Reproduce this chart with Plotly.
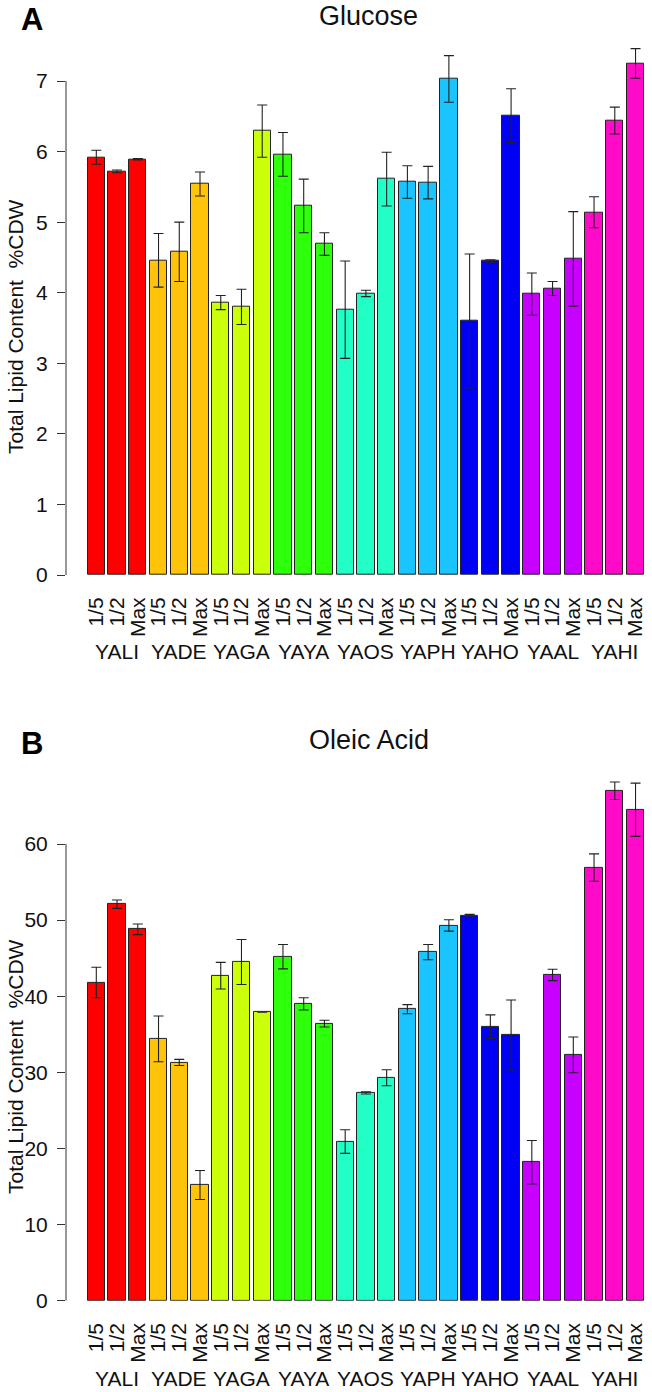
import numpy as np
import plotly.graph_objects as go

W, H = 652, 1392

strains = ["YALI", "YADE", "YAGA", "YAYA", "YAOS", "YAPH", "YAHO", "YAAL", "YAHI"]
levels = ["1/5", "1/2", "Max"]
strain_colors = ["#FF0000", "#FFC30A", "#CCFF0A", "#2EFF0A", "#22FFC6",
                 "#1AC4FF", "#0000F5", "#C800FF", "#FF0AC8"]

glucose_vals = [5.92, 5.72, 5.89, 4.46, 4.58, 5.54, 3.86, 3.80, 6.29,
                5.96, 5.23, 4.69, 3.76, 3.99, 5.61, 5.57, 5.56, 7.03,
                3.60, 4.45, 6.51, 3.98, 4.06, 4.48, 5.14, 6.44, 7.25]
glucose_err = [0.10, 0.02, 0.01, 0.38, 0.42, 0.17, 0.10, 0.25, 0.37,
               0.31, 0.38, 0.16, 0.69, 0.045, 0.38, 0.23, 0.23, 0.33,
               0.95, 0.017, 0.38, 0.30, 0.10, 0.67, 0.22, 0.19, 0.21]

oleic_vals = [41.8, 52.1, 48.8, 34.4, 31.3, 15.2, 42.7, 44.5, 37.9,
              45.2, 39.0, 36.4, 20.9, 27.3, 29.3, 38.3, 45.8, 49.3,
              50.6, 36.0, 34.9, 18.2, 42.8, 32.3, 56.9, 67.0, 64.5]
oleic_err = [2.0, 0.55, 0.7, 3.0, 0.4, 1.9, 1.75, 2.95, 0.0,
             1.6, 0.8, 0.45, 1.55, 0.15, 1.05, 0.6, 1.0, 0.75,
             0.15, 1.55, 4.6, 2.85, 0.75, 2.35, 1.8, 1.15, 3.5]

top_ticks = [0, 1, 2, 3, 4, 5, 6, 7]
bottom_ticks = [0, 10, 20, 30, 40, 50, 60]

n = len(strains) * len(levels)
xpos = np.arange(n)
tick_text = levels * len(strains)
bar_colors = [c for c in strain_colors for _ in levels]

FONT = "Liberation Sans, Arial, Helvetica, sans-serif"


def py(px):
    return (H - px) / H


fig = go.Figure()
panels = [
    ("x", "y", glucose_vals, glucose_err),
    ("x2", "y2", oleic_vals, oleic_err),
]
for xa, ya, vals, errs in panels:
    fig.add_trace(go.Bar(
        x=xpos, y=vals, xaxis=xa, yaxis=ya, width=0.834,
        marker=dict(color=bar_colors, line=dict(color="#222222", width=1)),
        error_y=dict(type="data", array=errs, visible=True,
                     color="#222222", thickness=1.1, width=5),
        showlegend=False, hoverinfo="skip",
    ))

x_left_px = 66
x_range = [-1.461, 26.794]

common_x = dict(
    range=x_range, tickmode="array", tickvals=xpos, ticktext=tick_text,
    tickangle=-90, ticks="outside", ticklen=13, tickcolor="rgba(0,0,0,0)",
    showgrid=False, zeroline=False, showline=False, automargin=False,
    tickfont=dict(family=FONT, size=21, color="#111111"),
    domain=[x_left_px / W, 1.0],
)
fig.update_layout(
    width=W, height=H, margin=dict(l=0, r=0, t=0, b=0, autoexpand=False),
    paper_bgcolor="white", plot_bgcolor="white",
    bargap=0,
    xaxis=dict(common_x, anchor="y"),
    xaxis2=dict(common_x, anchor="y2"),
    yaxis=dict(range=[0, 7.6], domain=[py(575), py(38.7)], anchor="x",
               tickmode="array", tickvals=top_ticks, ticks="outside",
               ticklen=8, tickcolor="#333333", ticklabelstandoff=5,
               showgrid=False, zeroline=False, showline=False, automargin=False,
               tickfont=dict(family=FONT, size=21, color="#111111")),
    yaxis2=dict(range=[0, 70], domain=[py(1300.7), py(767.9)], anchor="x2",
                tickmode="array", tickvals=bottom_ticks, ticks="outside",
                ticklen=8, tickcolor="#333333", ticklabelstandoff=5,
                showgrid=False, zeroline=False, showline=False, automargin=False,
                tickfont=dict(family=FONT, size=21, color="#111111")),
)

# y axis lines spanning the tick range only (as in R)
fig.add_shape(type="line", xref="x domain", yref="y", x0=0, x1=0,
              y0=top_ticks[0], y1=top_ticks[-1], line=dict(color="#333333", width=1))
fig.add_shape(type="line", xref="x2 domain", yref="y2", x0=0, x1=0,
              y0=bottom_ticks[0], y1=bottom_ticks[-1], line=dict(color="#333333", width=1))

ann = []
# group labels
for g, s in enumerate(strains):
    mid = xpos[g * len(levels) + 1]
    ann.append(dict(x=mid, xref="x", y=py(652), yref="paper", text=s,
                    showarrow=False, xanchor="center", yanchor="middle",
                    font=dict(family=FONT, size=21, color="#111111")))
    ann.append(dict(x=mid, xref="x2", y=py(1378), yref="paper", text=s,
                    showarrow=False, xanchor="center", yanchor="middle",
                    font=dict(family=FONT, size=21, color="#111111")))

ytitle = "Total Lipid Content \u00a0%CDW"
for cy in (327, 1067):
    ann.append(dict(x=15 / W, xref="paper", y=py(cy), yref="paper", text=ytitle,
                    textangle=-90, showarrow=False, xanchor="center", yanchor="middle",
                    font=dict(family=FONT, size=21, color="#111111")))

for txt, cy in (("Glucose", 16), ("Oleic Acid", 740)):
    ann.append(dict(x=369 / W, xref="paper", y=py(cy), yref="paper", text=txt,
                    showarrow=False, xanchor="center", yanchor="middle",
                    font=dict(family=FONT, size=27, color="#111111")))

for txt, cx, cy in (("<b>A</b>", 31.5, 19), ("<b>B</b>", 32, 743)):
    ann.append(dict(x=cx / W, xref="paper", y=py(cy), yref="paper", text=txt,
                    showarrow=False, xanchor="center", yanchor="middle",
                    font=dict(family=FONT, size=31, color="#000000")))

fig.update_layout(annotations=ann)
fig.write_html(
    "out.html",
    config={"displayModeBar": False},
    post_script="document.body.style.margin='0';document.body.style.overflow='hidden';",
)
